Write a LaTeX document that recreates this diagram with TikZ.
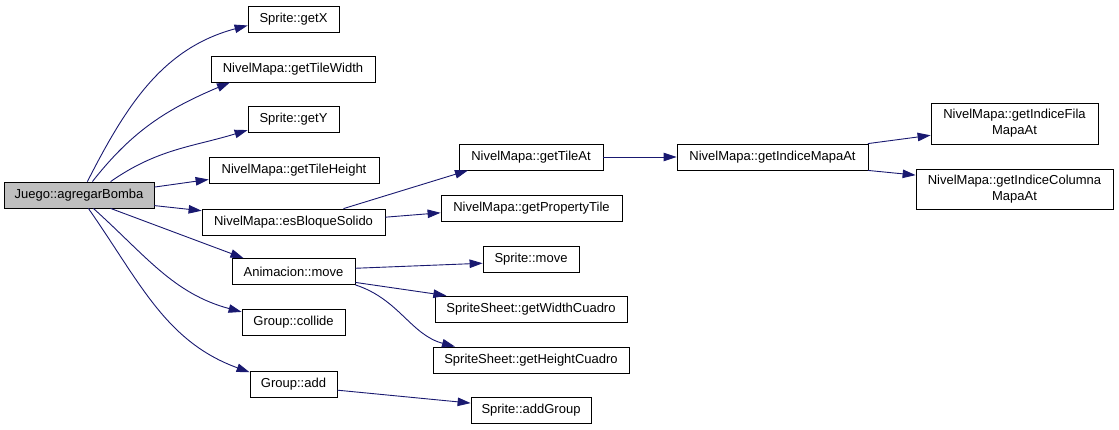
\documentclass[tikz,border=0pt]{standalone}
\usepackage{fontspec}
\setmainfont{Liberation Sans}
\usetikzlibrary{arrows.meta}
\definecolor{callblue}{HTML}{191970}
\definecolor{rootgray}{HTML}{BFBFBF}
\begin{document}
\begin{tikzpicture}[x=1pt, y=1pt,
  fn/.style={draw=black, line width=0.8pt, inner sep=0pt, font=\fontsize{13}{16}\selectfont, align=center},
  call/.style={draw=callblue, line width=0.9pt, -{Triangle[length=13pt, width=8.5pt]}}]

  \useasboundingbox (0,0) rectangle (1119,-429);

  % -- Caller --
  \node[fn, fill=rootgray, minimum width=150, minimum height=26] (root) at (79,-195) {Juego::agregarBomba};

  % -- First column --
  \node[fn, minimum width=91, minimum height=26] (getx) at (293.5,-19) {Sprite::getX};
  \node[fn, minimum width=164, minimum height=26] (tilewidth) at (293,-69) {NivelMapa::getTileWidth};
  \node[fn, minimum width=91, minimum height=26] (gety) at (293.5,-119.5) {Sprite::getY};
  \node[fn, minimum width=170, minimum height=26] (tileheight) at (294,-170.5) {NivelMapa::getTileHeight};
  \node[fn, minimum width=183, minimum height=26] (solido) at (293.5,-222) {NivelMapa::esBloqueSolido};
  \node[fn, minimum width=123, minimum height=26] (animove) at (293.5,-271.5) {Animacion::move};
  \node[fn, minimum width=103, minimum height=26] (collide) at (293.5,-322) {Group::collide};
  \node[fn, minimum width=87, minimum height=26] (add) at (293.5,-384) {Group::add};

  % -- Second column --
  \node[fn, minimum width=144, minimum height=26] (tileat) at (531,-157) {NivelMapa::getTileAt};
  \node[fn, minimum width=181, minimum height=26] (proptile) at (531.5,-208) {NivelMapa::getPropertyTile};
  \node[fn, minimum width=96, minimum height=26] (spmove) at (531,-259) {Sprite::move};
  \node[fn, minimum width=192, minimum height=26] (widthc) at (531,-309) {SpriteSheet::getWidthCuadro};
  \node[fn, minimum width=196, minimum height=26] (heightc) at (531,-360) {SpriteSheet::getHeightCuadro};
  \node[fn, minimum width=120, minimum height=26] (addgroup) at (531,-410.5) {Sprite::addGroup};

  % -- Third and fourth columns --
  \node[fn, minimum width=191, minimum height=26] (indice) at (772.5,-157) {NivelMapa::getIndiceMapaAt};
  \node[fn, minimum width=167, minimum height=41] (fila) at (1014.5,-123.5) {NivelMapa::getIndiceFila\\MapaAt};
  \node[fn, minimum width=197, minimum height=40] (columna) at (1014.5,-189) {NivelMapa::getIndiceColumna\\MapaAt};

  % -- Calls from the caller --
  \draw[call] (root.58) to[out=63, in=195] (getx.188);
  \draw[call] (root.45) to[out=52, in=203] (tilewidth.192);
  \draw[call] (root.23) to[out=35, in=197] (gety.193);
  \draw[call] (root.6) -- (tileheight.186);
  \draw[call] (root.-8) -- (solido.173);
  \draw[call] (root.-23) -- (animove.165);
  \draw[call] (root.-43) to[out=-42, in=165] (collide.169);
  \draw[call] (root.-55) to[out=-55, in=160] (add.165);

  % -- Further calls --
  \draw[call] (solido.15) -- (tileat.192);
  \draw[call] (solido.3) -- (proptile.183);
  \draw[call] (tileat) -- (indice);
  \draw[call] (indice.8) -- (fila.188);
  \draw[call] (indice.-8) -- (columna.172);
  \draw[call] (animove.3) -- (spmove.185);
  \draw[call] (animove.-10) -- (widthc.171);
  \draw[call] (animove.south east) to[out=-18, in=165] (heightc.170);
  \draw[call] (add.-8) -- (addgroup.173);

\end{tikzpicture}
\end{document}
